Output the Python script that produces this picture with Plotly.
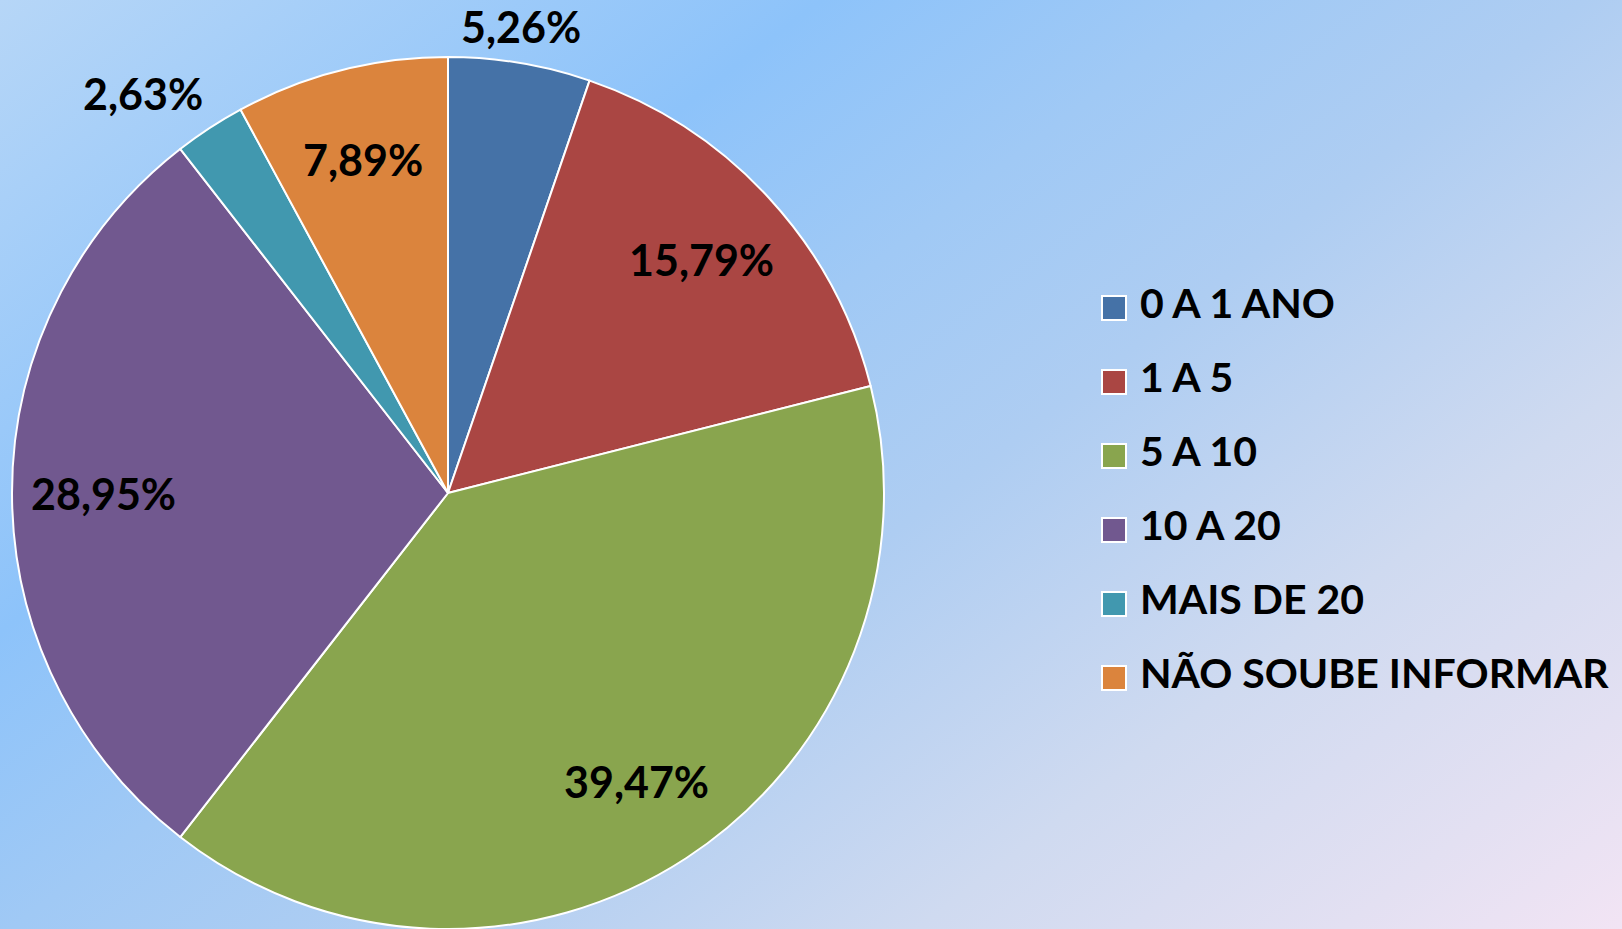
import base64
import math
import plotly.graph_objects as go

# ---- data ----
categories = ["0 A 1 ANO", "1 A 5", "5 A 10", "10 A 20", "MAIS DE 20", "NÃO SOUBE INFORMAR"]
counts = [2, 6, 15, 11, 1, 3]
colors = ["#4572A7", "#AA4643", "#89A54E", "#71588F", "#4198AF", "#DB843D"]
label_outside = [True, False, False, False, True, False]

W, H = 1622, 929
FONT = "Lato"

# pie geometry (pixels)
CX, CY, R = 448, 493, 436

# background gradient (light blue -> lavender)
svg = f'''<svg xmlns="http://www.w3.org/2000/svg" width="{W}" height="{H}" viewBox="0 0 {W} {H}" preserveAspectRatio="none">
<defs><linearGradient id="g" gradientUnits="userSpaceOnUse" x1="0" y1="0" x2="1053" y2="1369">
<stop offset="0" stop-color="#b6d6f7"/>
<stop offset="0.29" stop-color="#8dc3fa"/>
<stop offset="0.43" stop-color="#a0c9f5"/>
<stop offset="0.56" stop-color="#aecdf2"/>
<stop offset="0.75" stop-color="#cfdaf0"/>
<stop offset="0.9" stop-color="#e3e0f2"/>
<stop offset="1" stop-color="#f2e4f4"/>
</linearGradient></defs>
<rect x="0" y="0" width="{W}" height="{H}" fill="url(#g)"/></svg>'''
bg_uri = "data:image/svg+xml;base64," + base64.b64encode(svg.encode()).decode()

fig = go.Figure()

fig.add_trace(go.Pie(
    labels=categories,
    values=counts,
    sort=False,
    direction="clockwise",
    rotation=0,
    marker=dict(colors=colors, line=dict(color="white", width=2)),
    textinfo="none",
    hoverinfo="label+percent",
    showlegend=False,
    domain=dict(x=[(CX - R) / W, (CX + R) / W], y=[(H - CY - R) / H, (H - CY + R) / H]),
))

# percentage labels placed along each slice bisector (computed from the data)
total = sum(counts)
annotations = []
cum = 0
for c, out in zip(counts, label_outside):
    frac = c / total
    mid = (cum + frac / 2) * 2 * math.pi
    cum += frac
    s, co = math.sin(mid), math.cos(mid)
    txt = f"{frac * 100:.2f}%".replace(".", ",")
    if out:
        rr = 1.02 * R
        xa = "center" if abs(s) < 0.3 else ("left" if s > 0 else "right")
        ya = "middle" if abs(co) < 0.3 else ("bottom" if co > 0 else "top")
    else:
        rr = 0.79 * R
        xa, ya = "center", "middle"
    px = CX + rr * s
    py = CY - rr * co
    annotations.append(dict(
        x=px / W, y=(H - py) / H, xref="paper", yref="paper",
        text=txt, showarrow=False, xanchor=xa, yanchor=ya,
        font=dict(family=FONT, size=43, color="black", weight="bold"),
    ))

# legend drawn as a scatter column of square markers with labels
rows = list(range(len(categories)))
fig.add_trace(go.Scatter(
    x=[0] * len(categories),
    y=rows,
    mode="markers+text",
    text=categories,
    texttemplate=" %{text}",
    textposition="middle right",
    textfont=dict(family=FONT, size=41, color="black", weight="bold"),
    marker=dict(symbol="square", size=24, color=colors, line=dict(color="white", width=2)),
    cliponaxis=False,
    hoverinfo="text",
    showlegend=False,
    xaxis="x", yaxis="y",
))

fig.update_layout(
    width=W, height=H,
    margin=dict(l=0, r=0, t=0, b=0),
    paper_bgcolor="#b0d0f4",
    plot_bgcolor="rgba(0,0,0,0)",
    separators=",.",
    annotations=annotations,
    images=[dict(source=bg_uri, xref="paper", yref="paper", x=0, y=1,
                 sizex=1, sizey=1, sizing="stretch", layer="below")],
    xaxis=dict(domain=[1114 / W, 1.0], range=[0, 1], visible=False, fixedrange=True),
    yaxis=dict(domain=[(H - 715) / H, (H - 271) / H], range=[5.5, -0.5], visible=False, fixedrange=True),
)

fig.write_html(
    "out.html",
    config={"displayModeBar": False},
    post_script="document.body.style.margin='0';document.body.style.overflow='hidden';",
)
